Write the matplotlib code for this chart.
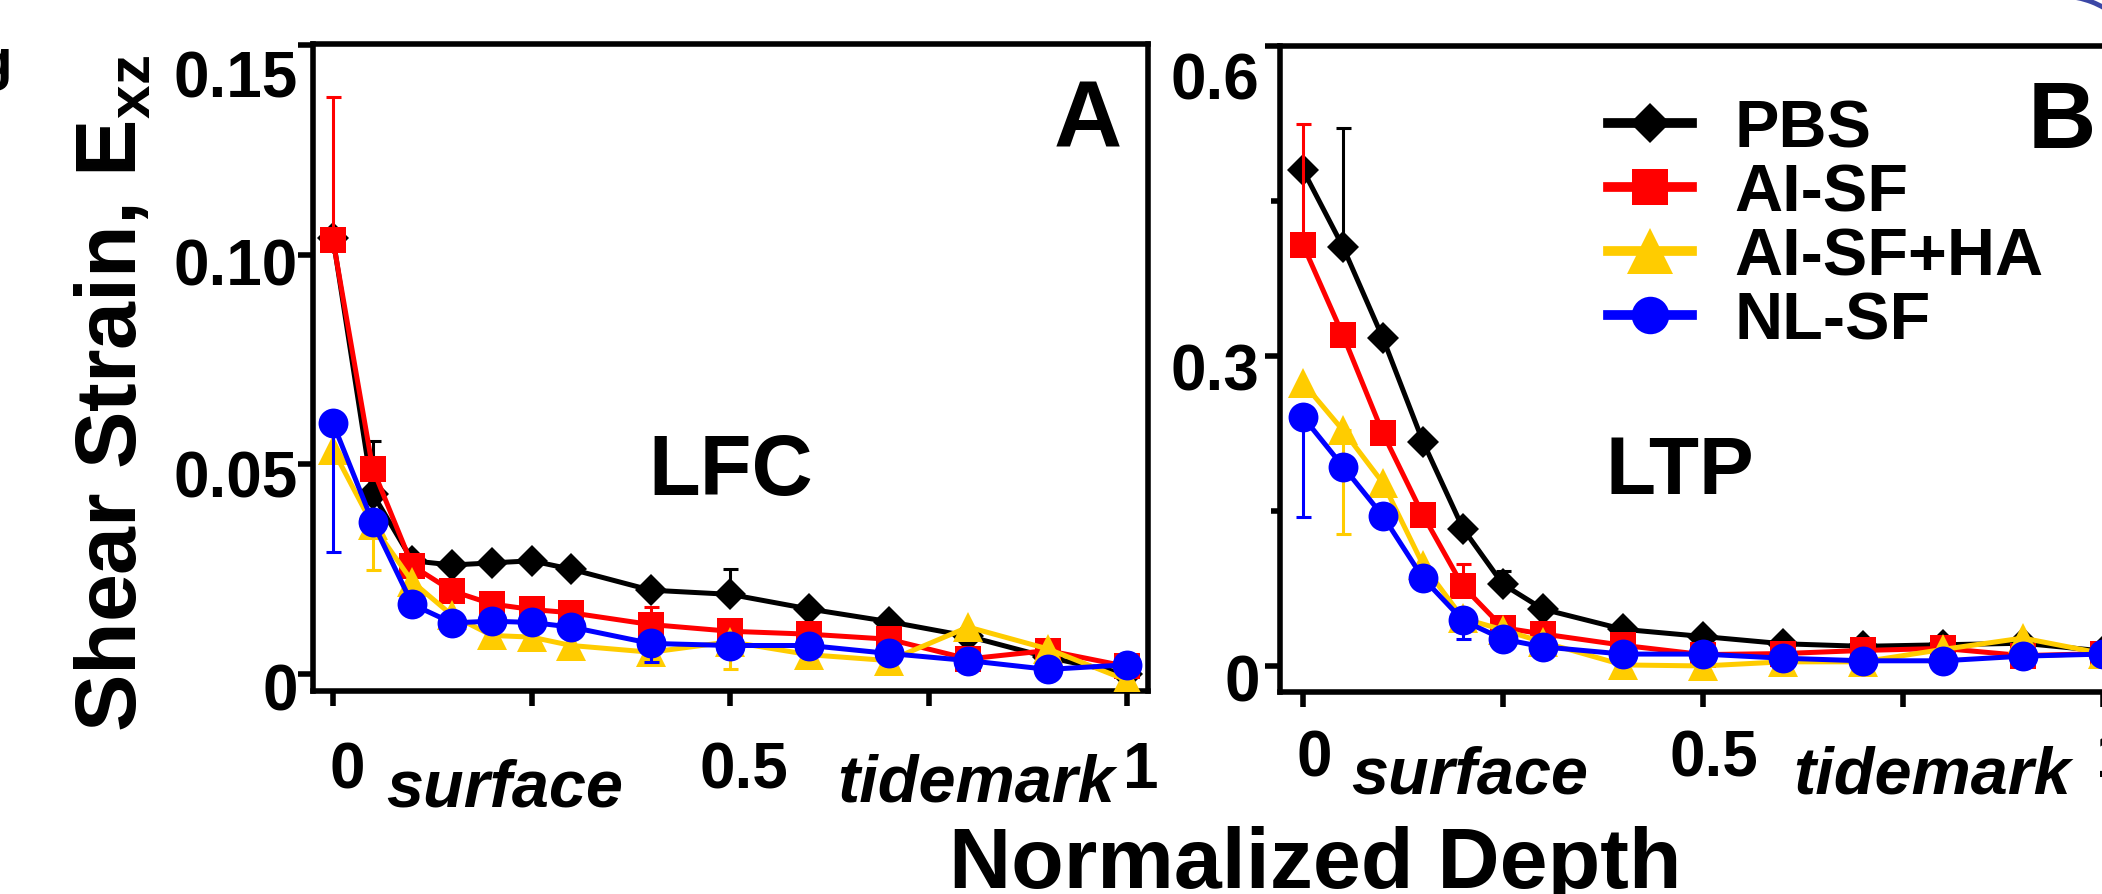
import numpy as np
import matplotlib
matplotlib.use("Agg")
import matplotlib.pyplot as plt
from matplotlib.lines import Line2D
from matplotlib.patches import Arc
from matplotlib.transforms import ScaledTranslation

plt.rcParams['font.family'] = ['Liberation Sans', 'DejaVu Sans']
plt.rcParams['font.weight'] = 'bold'
plt.rcParams['mathtext.fontset'] = 'custom'
plt.rcParams['mathtext.rm'] = 'Liberation Sans:bold'
plt.rcParams['mathtext.bf'] = 'Liberation Sans:bold'

# normalized depth of the measurement points
depth = [0, 0.05, 0.1, 0.15, 0.2, 0.25, 0.3, 0.4, 0.5, 0.6, 0.7, 0.8, 0.9, 1.0]
groups = ['PBS', 'AI-SF', 'AI-SF+HA', 'NL-SF']

# panel A, LFC
lfc_pbs = [0.104, 0.043, 0.027, 0.026, 0.0265, 0.027, 0.025, 0.020, 0.019, 0.0155, 0.0125, 0.009, 0.004, 0.0]
lfc_aisf = [0.1035, 0.049, 0.0258, 0.0198, 0.0167, 0.0154, 0.0146, 0.0118, 0.0102, 0.0095, 0.0083, 0.0036, 0.0056, 0.0018]
lfc_aisf_ha = [0.0535, 0.0355, 0.022, 0.014, 0.0092, 0.0088, 0.0068, 0.0052, 0.0077, 0.0046, 0.0032, 0.0112, 0.006, -0.0015]
lfc_nlsf = [0.0598, 0.0362, 0.0166, 0.0122, 0.0126, 0.0123, 0.0112, 0.0073, 0.0068, 0.0068, 0.0049, 0.0032, 0.0011, 0.0022]
# one sided error bars (only the ones that stick out of the markers)
lfc_pbs_err = [0, 0.0125, 0, 0, 0, 0, 0, 0, 0.006, 0, 0, 0, 0, 0]
lfc_aisf_err = [0.034, 0, 0, 0, 0, 0, 0, 0.0042, 0, 0, 0, 0, 0, 0]
lfc_aisf_ha_err = [0, 0.0107, 0, 0, 0, 0, 0, 0, 0.0065, 0, 0, 0, 0, 0]
lfc_nlsf_err = [0.0306, 0, 0, 0, 0, 0, 0, 0.0045, 0, 0, 0, 0, 0, 0]

# panel B, LTP
ltp_pbs = [0.48, 0.4055, 0.317, 0.217, 0.133, 0.079, 0.055, 0.0355, 0.0285, 0.0215, 0.019, 0.0205, 0.022, 0.0145]
ltp_aisf = [0.4075, 0.32, 0.225, 0.146, 0.077, 0.037, 0.031, 0.020, 0.011, 0.012, 0.015, 0.017, 0.010, 0.012]
ltp_aisf_ha = [0.274, 0.228, 0.177, 0.098, 0.046, 0.035, 0.023, 0.001, 0.0, 0.004, 0.004, 0.016, 0.027, 0.012]
ltp_nlsf = [0.241, 0.193, 0.145, 0.085, 0.044, 0.026, 0.0185, 0.0115, 0.0115, 0.0075, 0.005, 0.005, 0.0095, 0.0115]
ltp_pbs_err = [0, 0.115, 0, 0, 0, 0.013, 0, 0, 0, 0, 0, 0, 0, 0]
ltp_aisf_err = [0.117, 0, 0, 0, 0.022, 0, 0, 0, 0, 0, 0, 0, 0, 0]
ltp_aisf_ha_err = [0, 0.10, 0, 0, 0, 0, 0, 0, 0, 0, 0, 0, 0, 0]
ltp_nlsf_err = [0.097, 0, 0, 0, 0.018, 0, 0, 0, 0, 0, 0, 0, 0, 0]

colors = ['#000000', '#ff0000', '#ffcc00', '#0000ff']
markers = ['D', 's', '^', 'o']
msizes = [16, 18.5, 21.5, 21.5]
leg_msizes = [20, 26.5, 33, 27]
err_up = [True, True, False, False]

W, H = 2102, 895
fig = plt.figure(figsize=(W / 100, H / 100), dpi=100)
ax_a = fig.add_axes([313 / W, 1 - 692 / H, 835 / W, 647 / H])
ax_b = fig.add_axes([1280 / W, 1 - 693 / H, 846 / W, 646 / H])


def draw(ax, series, errs):
    x = np.array(depth)
    for i, (y, e) in enumerate(zip(series, errs)):
        y = np.array(y)
        e = np.array(e)
        k = e > 0
        none = np.zeros(k.sum())
        yerr = [none, e[k]] if err_up[i] else [e[k], none]
        ax.errorbar(x[k], y[k], yerr=yerr, fmt='none', ecolor=colors[i],
                    elinewidth=2.2, capsize=5.4, capthick=2.2, zorder=1.5 + i)
        ax.plot(x, y, color=colors[i], lw=3.6, marker=markers[i], ms=msizes[i],
                mew=0, zorder=2 + i)


def nudge(labels, dx, dys):
    # move tick labels by a few pixels
    for lab, dy in zip(labels, dys):
        lab.set_transform(lab.get_transform() +
                          ScaledTranslation(dx / 100, -dy / 100, fig.dpi_scale_trans))


draw(ax_a, [lfc_pbs, lfc_aisf, lfc_aisf_ha, lfc_nlsf],
     [lfc_pbs_err, lfc_aisf_err, lfc_aisf_ha_err, lfc_nlsf_err])
draw(ax_b, [ltp_pbs, ltp_aisf, ltp_aisf_ha, ltp_nlsf],
     [ltp_pbs_err, ltp_aisf_err, ltp_aisf_ha_err, ltp_nlsf_err])

ax_a.set_xlim(-0.0252, 1.0264)
ax_a.set_ylim(-0.00405, 0.15025)
ax_b.set_xlim(-0.0288, 1.029)
ax_b.set_ylim(-0.0252, 0.6)

for ax in (ax_a, ax_b):
    for sp in ax.spines.values():
        sp.set_linewidth(4)
    ax.set_xticks([0, 0.25, 0.5, 0.75, 1], labels=['0', '', '0.5', '', '1'])
    ax.tick_params(direction='out', length=10.5, width=4, labelsize=46)

ax_a.set_yticks([0, 0.05, 0.10, 0.15], labels=['0', '0.05', '0.10', '0.15'])
ax_b.set_yticks([0, 0.3, 0.6], labels=['0', '0.3', '0.6'])
ax_b.set_yticks([0.15, 0.45], minor=True)
ax_b.tick_params(which='minor', direction='out', length=6.5, width=4)

ax_a.tick_params(axis='x', pad=25)
ax_a.tick_params(axis='y', pad=0.5)
ax_b.tick_params(axis='x', pad=16)
ax_b.tick_params(axis='y', pad=4.2)

nudge(ax_a.get_xticklabels(), 14, [0] * 5)
nudge(ax_b.get_xticklabels(), 11, [0] * 5)
nudge(ax_a.get_yticklabels(), 0, [12, 9, 6, 28])
nudge(ax_b.get_yticklabels(), 0, [11, 10, 29])

# panel texts
ta = ax_a.get_xaxis_transform()
tb = ax_b.get_xaxis_transform()
ax_a.text(0.95, 0.841, 'A', transform=ta, ha='center', va='baseline', fontsize=68)
ax_b.text(0.949, 0.8437, 'B', transform=tb, ha='center', va='baseline', fontsize=68)
ax_a.text(0.501, 0.3045, 'LFC', transform=ta, ha='center', va='baseline', fontsize=61)
ax_b.text(0.471, 0.308, 'LTP', transform=tb, ha='center', va='baseline', fontsize=59)
ax_a.text(0.2166, -0.1777, 'surface', transform=ta, ha='center', va='baseline',
          fontsize=48, style='italic')
ax_a.text(0.81, -0.170, 'tidemark', transform=ta, ha='center', va='baseline',
          fontsize=48, style='italic')
ax_b.text(0.209, -0.1548, 'surface', transform=tb, ha='center', va='baseline',
          fontsize=48, style='italic')
ax_b.text(0.786, -0.1548, 'tidemark', transform=tb, ha='center', va='baseline',
          fontsize=48, style='italic')

fig.text(1315 / W, 1 - 888 / H, 'Normalized Depth', ha='center', va='baseline', fontsize=62)
fig.text(137 / W, 1 - 732 / H, r'Shear Strain, E$_{\mathbf{xz}}$', rotation=90,
         rotation_mode='anchor', ha='left', va='baseline', fontsize=62)
fig.text(12 / W, 1 - 79 / H, 'g', ha='right', va='baseline', fontsize=42)

handles = [Line2D([], [], color=colors[i], marker=markers[i], ms=leg_msizes[i], lw=7, mew=0)
           for i in range(4)]
ax_b.legend(handles, groups, loc='upper left', bbox_to_anchor=(1608 / W, 1 - 99 / H),
            bbox_transform=fig.transFigure, frameon=False, borderpad=0, borderaxespad=0,
            handlelength=1.26, handletextpad=0.64, labelspacing=0.03,
            prop={'weight': 'bold', 'size': 48})

# bit of a neighbouring figure in the corner
fig.add_artist(Arc((20.60, 8.10), 1.76, 1.76, theta1=50, theta2=88, color='#3b47a6',
                   lw=3.5, transform=fig.dpi_scale_trans))

fig.savefig('out.png', dpi=100)
